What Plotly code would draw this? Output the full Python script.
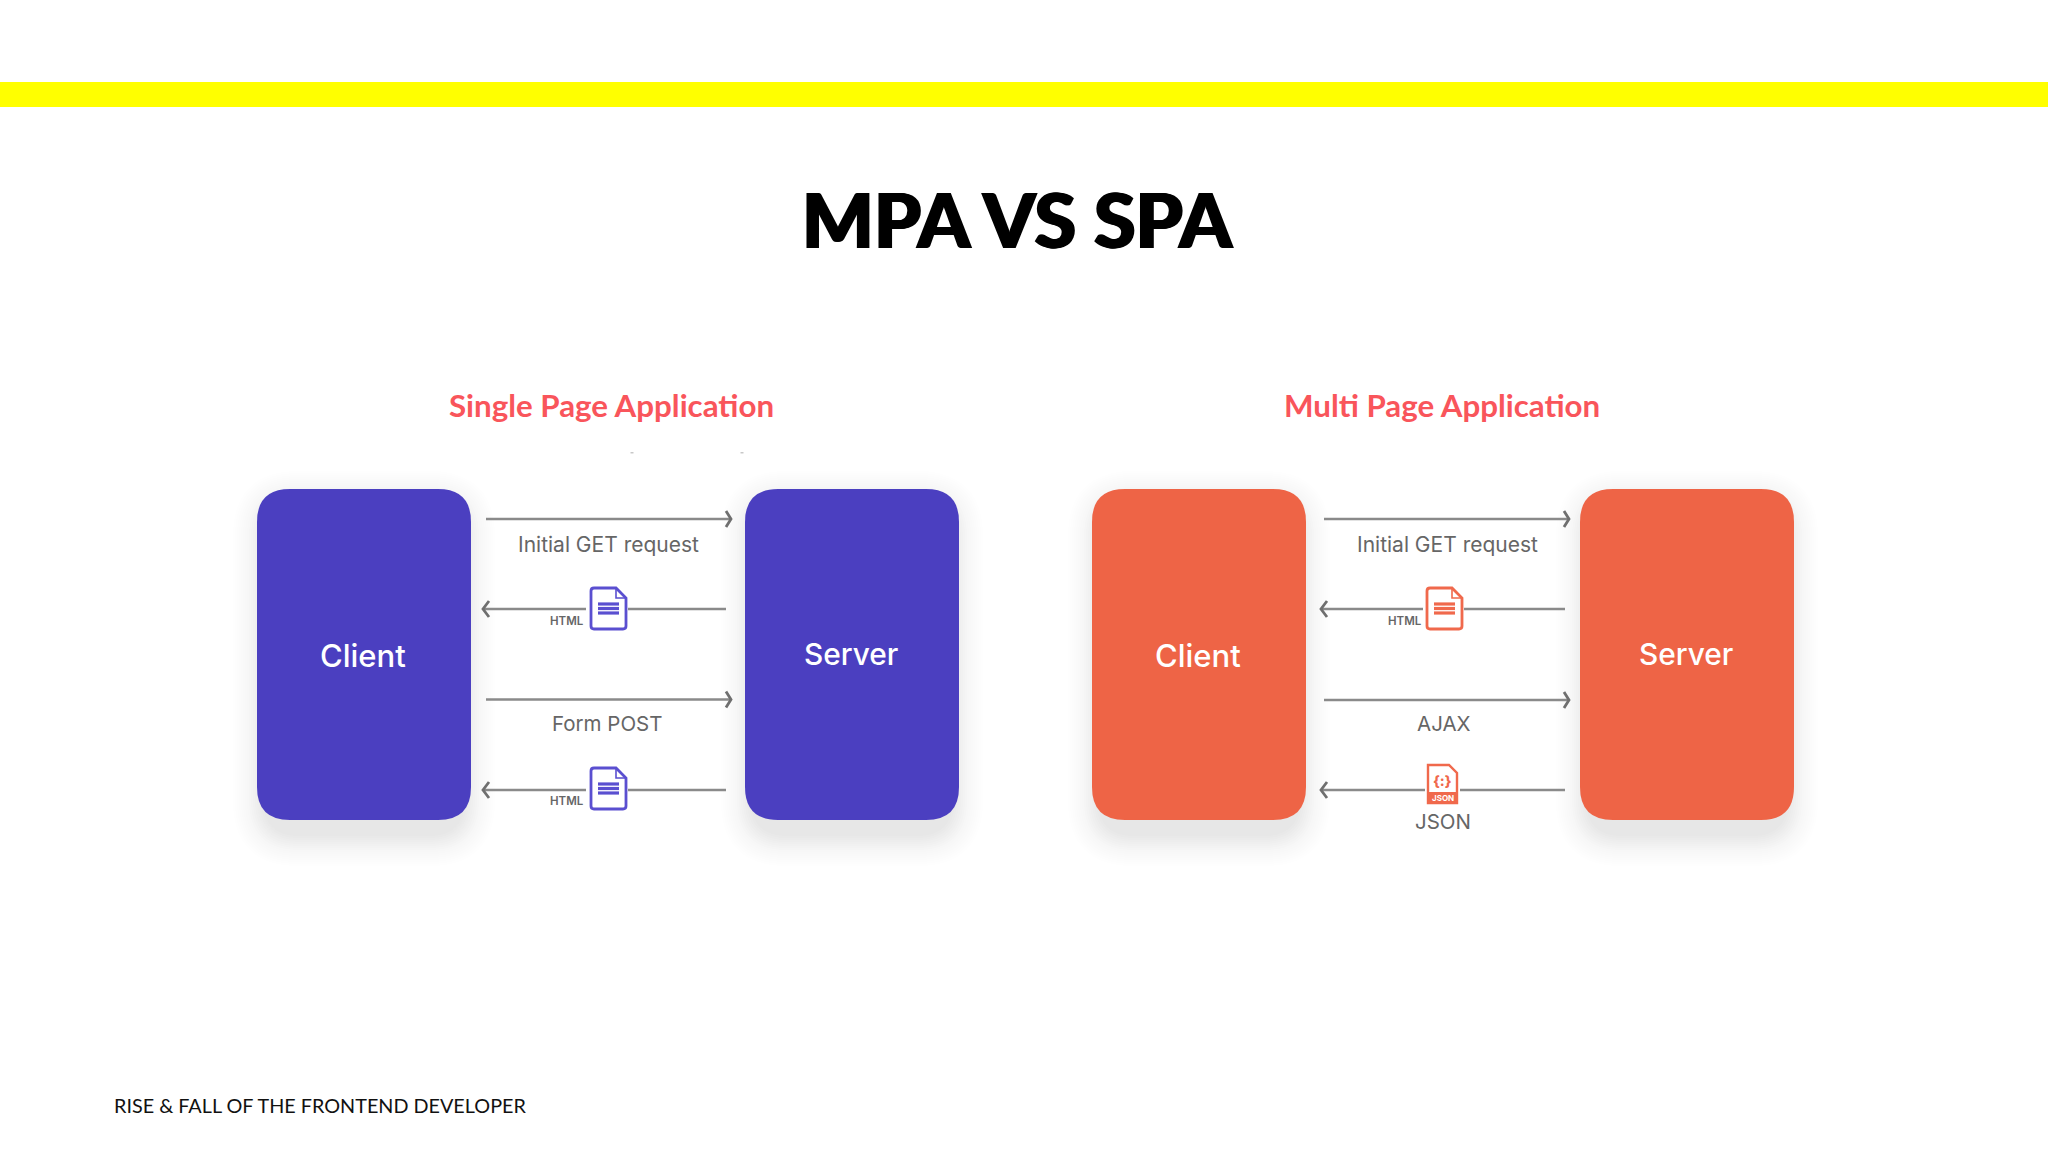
import plotly.graph_objects as go

# ---- content ----
slide_title = "MPA VS SPA"
footer_text = "RISE & FALL OF THE FRONTEND DEVELOPER"
panel_titles = ["Single Page Application", "Multi Page Application"]
box_labels = ["Client", "Server"]
panel_messages = [
    ["Initial GET request", "Form POST"],
    ["Initial GET request", "AJAX"],
]
small_labels = ["HTML", "JSON"]

W, H = 2048, 1152
BLUE, BLUE_ICON = "#4B3FC0", "#5A4FD0"
ORANGE, ORANGE_ICON = "#EE6446", "#F0694C"
GREY = "#8A8A8A"
TXT = "#666666"

shapes = []
annos = []


def rr(x0, y0, x1, y1, r):
    return (f"M {x0+r} {y0} L {x1-r} {y0} Q {x1} {y0} {x1} {y0+r} L {x1} {y1-r} "
            f"Q {x1} {y1} {x1-r} {y1} L {x0+r} {y1} Q {x0} {y1} {x0} {y1-r} "
            f"L {x0} {y0+r} Q {x0} {y0} {x0+r} {y0} Z")


def path(d, line=None, lw=0, fill=None):
    s = dict(type="path", path=d, xref="x", yref="y", layer="above")
    s["line"] = dict(color=line, width=lw) if line else dict(width=0)
    if fill:
        s["fillcolor"] = fill
    shapes.append(s)


def seg(x0, x1, y):
    path(f"M {x0} {y} L {x1} {y}", GREY, 2.6)


def text(x, y, t, size, color, family="Inter", weight=400, anchor="center", shadow=None):
    font = dict(size=size, color=color, family=family, weight=weight)
    if shadow:
        font["shadow"] = shadow
    annos.append(dict(x=x, y=y, xref="x", yref="y", text=t, showarrow=False,
                      xanchor=anchor, yanchor="middle", font=font))


def box(x0, x1, color, label, tx, ty, size):
    y0, y1 = 489, 820
    for i in range(16):
        e = 32 - 2 * i
        path(rr(x0 - e + 8, y0 + 14 - e, x1 + e - 8, y1 + 14 + e, 34 + e),
             fill="rgba(110,110,110,0.008)" if i < 8 else "rgba(110,110,110,0.012)")
    path(rr(x0, y0, x1, y1, 33), fill=color)
    text(tx, ty, label, size, "#FFFFFF", weight=500)


def right_arrow(x0, x1, y):
    seg(x0, x1, y)
    path(f"M {x1-5} {y-8} L {x1} {y} L {x1-5} {y+8}", "#6f6f6f", 2.8)


def left_arrow(x0, x1, y, gap0, gap1):
    seg(x0, gap0, y)
    seg(gap1, x1, y)
    path(f"M {x0+6} {y-8} L {x0} {y} L {x0+6} {y+8}", "#6f6f6f", 2.8)


def doc_icon(x0, x1, y0, y1, color):
    f = 10
    path(f"M {x0+3} {y0} L {x1-f} {y0} L {x1} {y0+f} L {x1} {y1-3} Q {x1} {y1} {x1-3} {y1} "
         f"L {x0+3} {y1} Q {x0} {y1} {x0} {y1-3} L {x0} {y0+3} Q {x0} {y0} {x0+3} {y0} Z",
         color, 2.8, "#FFFFFF")
    path(f"M {x1-f} {y0} L {x1-f} {y0+f} L {x1} {y0+f}", color, 1.6)
    for dy in (16, 20.5, 25):
        path(f"M {x0+7} {y0+dy} L {x1-7} {y0+dy}", color, 3.2)


def json_icon(x0, x1, y0, y1, color):
    f = 8
    path(f"M {x0} {y0} L {x1-f} {y0} L {x1} {y0+f} L {x1} {y1} L {x0} {y1} Z", color, 2.4, "#FFFFFF")
    path(f"M {x0} {y1-11} L {x1} {y1-11} L {x1} {y1} L {x0} {y1} Z", fill=color)
    text((x0 + x1) / 2, y0 + 15, "{:}", 14, color, weight=800)
    text((x0 + x1) / 2, y1 - 5.5, small_labels[1], 8, "#FFFFFF", weight=700)


# yellow band
path(f"M 0 82 L {W} 82 L {W} 107 L 0 107 Z", fill="#FFFF00")

# title and footer
text(1017, 218, slide_title, 75.5, "#000000", family="Lato", weight=900,
     shadow="1.2px 0 0 #000, -1.2px 0 0 #000")
text(112, 1105, footer_text, 19.8, "#111111", family="Lato", anchor="left")

# panel headings
text(611, 405, panel_titles[0], 31.3, "#F9555B", family="Lato", weight=700)
text(1442, 405, panel_titles[1], 31.3, "#F9555B", family="Lato", weight=700)

# faint specks below the SPA heading
for sx in (632, 742):
    path(f"M {sx-1.5} 452 L {sx+1.5} 452 L {sx+1.5} 453.5 L {sx-1.5} 453.5 Z", fill="#c8c8c8")

# SPA panel
box(257, 471, BLUE, box_labels[0], 363, 655, 31)
box(745, 959, BLUE, box_labels[1], 850.5, 654, 29.8)
right_arrow(486, 731, 519)
left_arrow(483, 726, 609, 586, 628)
right_arrow(486, 731, 699.5)
left_arrow(483, 726, 790, 586, 628)
doc_icon(591, 626, 588, 629, BLUE_ICON)
doc_icon(591, 626, 768, 809, BLUE_ICON)
text(608.5, 544, panel_messages[0][0], 21, TXT)
text(607, 723, panel_messages[0][1], 20.5, TXT)
text(566.5, 621, small_labels[0], 11.5, TXT, weight=600)
text(566.5, 801, small_labels[0], 11.5, TXT, weight=600)

# MPA panel
box(1092, 1306, ORANGE, box_labels[0], 1198, 655, 31)
box(1580, 1794, ORANGE, box_labels[1], 1685.5, 654, 29.8)
right_arrow(1324, 1569, 519)
left_arrow(1321, 1565, 609, 1423, 1464)
right_arrow(1324, 1569, 700)
left_arrow(1321, 1565, 790, 1425, 1460)
doc_icon(1427, 1462, 588, 629, ORANGE_ICON)
json_icon(1428, 1457, 765, 803, ORANGE_ICON)
text(1447.5, 544, panel_messages[1][0], 21, TXT)
text(1444, 723, panel_messages[1][1], 20.5, TXT)
text(1405, 621, small_labels[0], 11.5, TXT, weight=600)
text(1442.5, 821, small_labels[1], 20.5, TXT)

fig = go.Figure()
fig.update_layout(
    width=W, height=H, margin=dict(l=0, r=0, t=0, b=0),
    paper_bgcolor="#FFFFFF", plot_bgcolor="#FFFFFF",
    xaxis=dict(range=[0, W], visible=False, fixedrange=True),
    yaxis=dict(range=[H, 0], visible=False, fixedrange=True),
    shapes=shapes, annotations=annos, showlegend=False,
)
fig.write_html("out.html", config=dict(displayModeBar=False),
               post_script="document.body.style.margin='0';document.body.style.overflow='hidden';")
